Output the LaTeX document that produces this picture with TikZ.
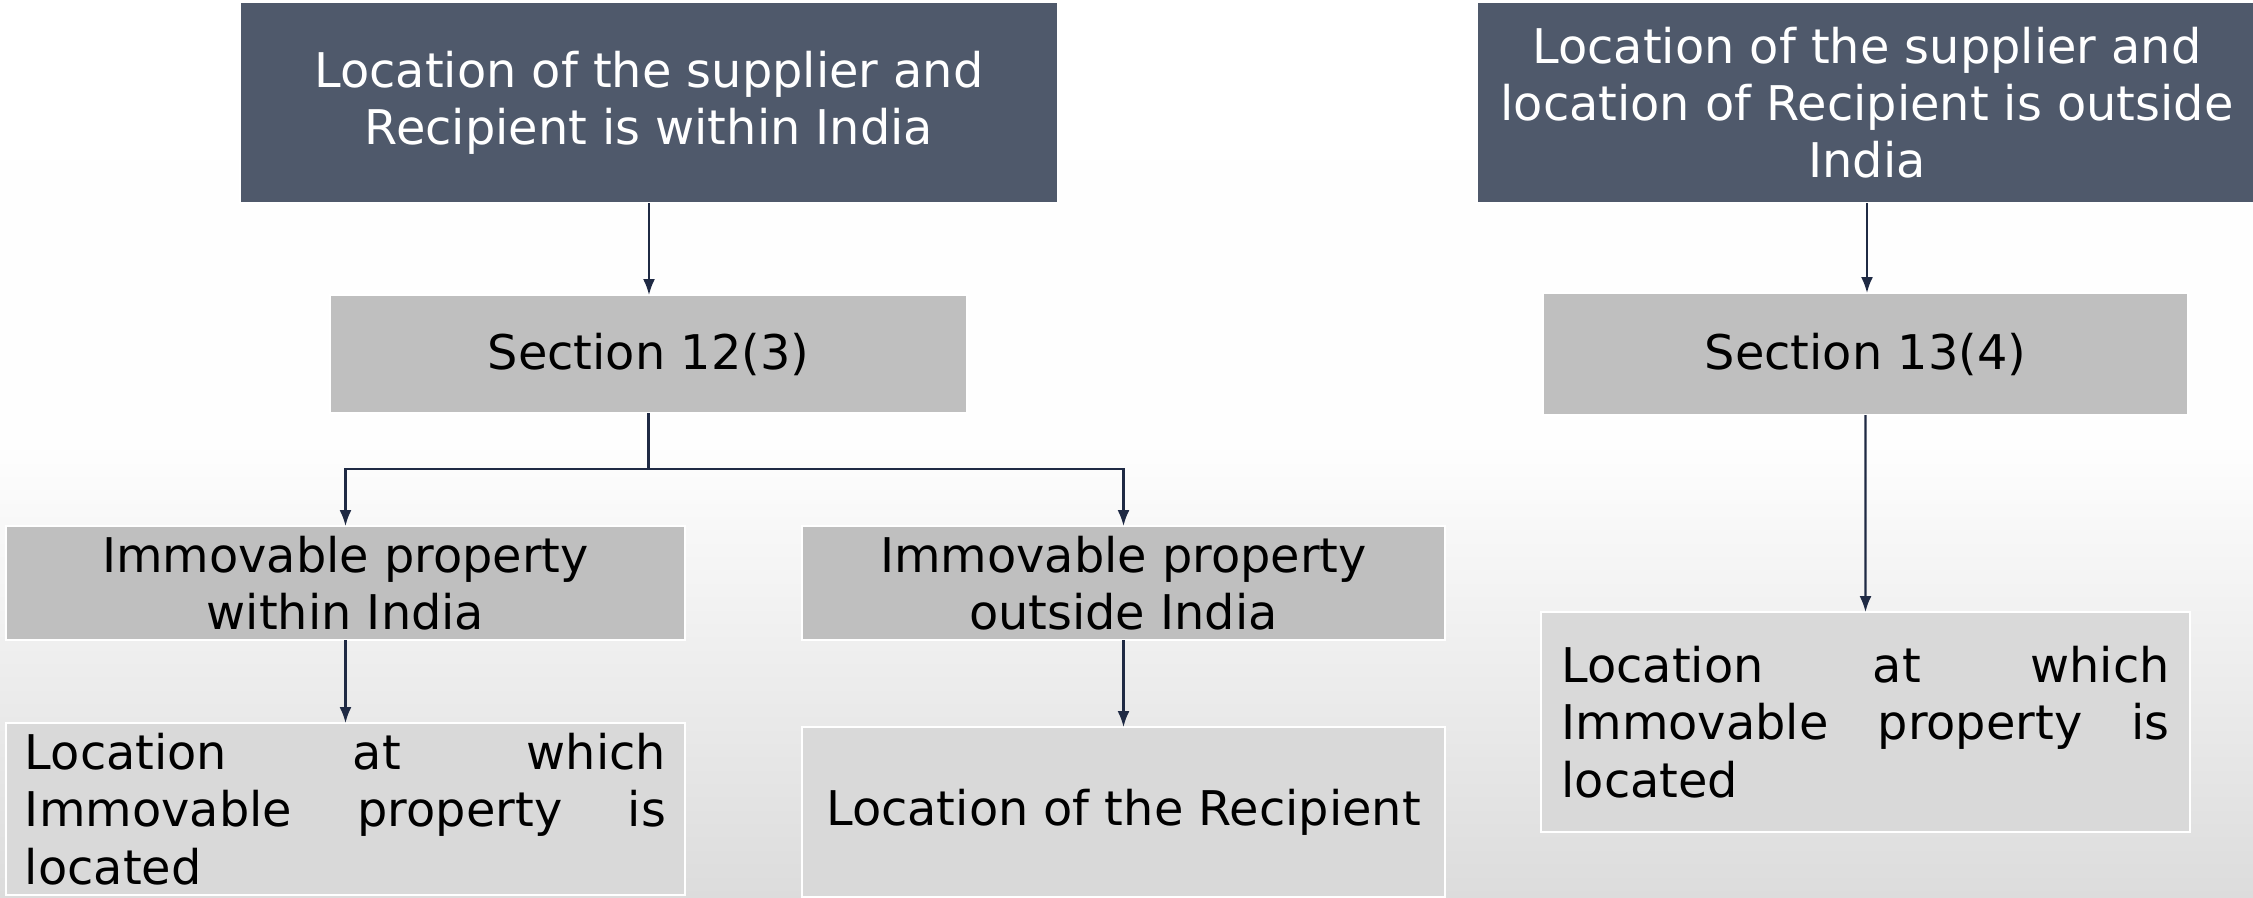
\documentclass[tikz,border=0pt]{standalone}
\usepackage{fontspec}
\setmainfont{DejaVu Sans}
\usepackage{tikz}
\usetikzlibrary{
	arrows.meta,
	calc}

\definecolor{slate}{HTML}{4F596B}
\definecolor{midgray}{HTML}{BFBFBF}
\definecolor{lightgray}{HTML}{D9D9D9}
\definecolor{navy}{HTML}{1F2A44}
\definecolor{bgbottom}{HTML}{DCDCDC}

\hyphenpenalty=10000
\tolerance=10000
\hbadness=10000

\begin{document}
\begin{tikzpicture}[scale=1]
  \tikzstyle{box}=[rectangle,draw=white,line width=0.6pt,outer sep=0pt,
    inner sep=0pt,align=center,font={\fontsize{13.6}{16.3}\selectfont}]
  \tikzstyle{head}=[box,fill=slate,text=white]
  \tikzstyle{rule}=[box,fill=midgray,text=black]
  \tikzstyle{result}=[box,fill=lightgray,text=black]
  \tikzstyle{arr}=[draw=navy,line width=0.6pt,-{Latex[length=1.6mm,width=1.2mm]}]

  \useasboundingbox (0,0) rectangle (22.53,-8.97);
  \shade[top color=white,bottom color=bgbottom,middle color=white!96!bgbottom]
    (0,0) rectangle (22.53,-8.97);

  % left column
  \node [head,anchor=north west,minimum width=8.18cm,minimum height=2.01cm]
    (within) at (2.40,-0.02) {Location of the supplier and\\Recipient is within India};
  \node [rule,anchor=north west,minimum width=6.37cm,minimum height=1.18cm]
    (sec12) at (3.30,-2.95) {Section 12(3)};
  \node [rule,anchor=north west,minimum width=6.79cm,minimum height=1.14cm]
    (propin) at (0.06,-5.26) {Immovable property\\within India};
  \node [rule,anchor=north west,minimum width=6.43cm,minimum height=1.14cm]
    (propout) at (8.02,-5.26) {Immovable property\\outside India};
  \node [result,anchor=north west,minimum width=6.79cm,minimum height=1.72cm,
    text width=6.41cm,align=justify]
    (locin) at (0.06,-7.23) {Location at which Immovable property is located};
  \node [result,anchor=north west,minimum width=6.43cm,minimum height=1.70cm]
    (locrec) at (8.02,-7.27) {Location of the Recipient};

  % right column
  \node [head,anchor=north west,minimum width=7.80cm,minimum height=2.01cm]
    (outside) at (14.77,-0.02) {Location of the supplier and\\location of Recipient is outside\\India};
  \node [rule,anchor=north west,minimum width=6.45cm,minimum height=1.22cm]
    (sec13) at (15.43,-2.93) {Section 13(4)};
  \node [result,anchor=north west,minimum width=6.49cm,minimum height=2.20cm,
    text width=6.08cm,align=justify]
    (locout) at (15.41,-6.12) {Location at which Immovable property is located};

  \coordinate (split) at ($(sec12.south)+(0,-0.56)$);

  \draw [arr] (within.south) -- (within.south |- sec12.north);
  \draw [draw=navy,line width=0.6pt] (sec12.south) -- (split);
  \draw [arr] (split) -| (propin.north);
  \draw [arr] (split) -| (propout.north);
  \draw [arr] (propin.south) -- (locin.north);
  \draw [arr] (propout.south) -- (locrec.north);
  \draw [arr] (outside.south) -- (outside.south |- sec13.north);
  \draw [arr] (sec13.south) -- (locout.north);
\end{tikzpicture}
\end{document}
